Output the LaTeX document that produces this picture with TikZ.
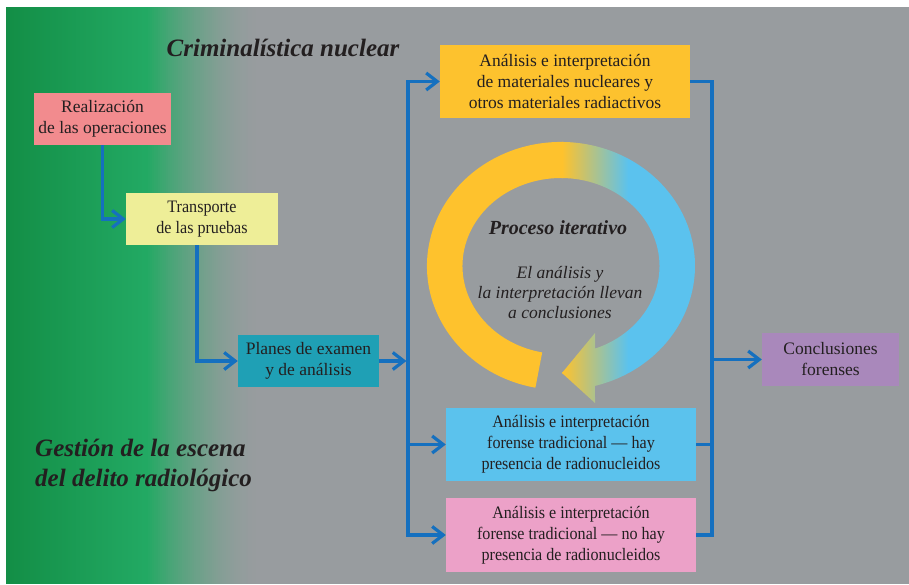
\documentclass[tikz,border=0pt]{standalone}
\usepackage{fontspec}
\setmainfont{Liberation Serif}
\newfontfamily\narrowserif[FakeStretch=0.92]{Liberation Serif}
\usetikzlibrary{arrows.meta}
\definecolor{bggray}{RGB}{152,156,159}
\definecolor{gdark}{RGB}{19,142,70}
\definecolor{gmid}{RGB}{34,169,99}
\definecolor{txt}{RGB}{35,31,32}
\definecolor{flow}{RGB}{21,112,191}
\definecolor{cpink}{RGB}{242,139,142}
\definecolor{cyel}{RGB}{238,238,152}
\definecolor{cteal}{RGB}{31,160,181}
\definecolor{corange}{RGB}{253,194,46}
\definecolor{cblue}{RGB}{91,194,237}
\definecolor{crose}{RGB}{236,161,200}
\definecolor{cpurple}{RGB}{169,136,187}
\definecolor{ringY}{RGB}{254,194,45}
\definecolor{ringB}{RGB}{91,194,238}
\begin{document}
\begin{tikzpicture}[x=1pt,y=1pt,
  box/.style={inner sep=0pt, align=center, text=txt, font=\fontsize{17.5}{21}\selectfont},
  narrowbox/.style={box, font=\narrowserif\fontsize{17.5}{21}\selectfont},
  flowline/.style={draw=flow, line width=3.2pt},
  flowarrow/.style={flowline, -{Straight Barb[length=11pt,width=17pt]}},
  heading/.style={inner sep=0pt, text=txt, font=\fontsize{25}{30}\selectfont\bfseries\itshape}
]
\useasboundingbox (0,0) rectangle (909,584);
\fill[white] (0,0) rectangle (909,584);
\fill[bggray] (6,0) rectangle (909,577);
\foreach \i [evaluate=\i as \p using {int(round(\i*100/69))}] in {0,...,69}
  {\fill[gmid!\p!gdark] ({6+2*\i},0) rectangle ({6+2*\i+2.6},577);}
\foreach \i [evaluate=\i as \p using {int(round(100*(1-(1-\i/57)^1.7)))}] in {0,...,57}
  {\fill[bggray!\p!gmid] ({146+2*\i},0) rectangle ({146+2*\i+2.6},577);}

% iterative ring
\begin{scope}
\clip (535.4,196.3) arc[start angle=259, end angle=-75.3, x radius=134, y radius=124]
  -- (595,181) -- (562,211) -- (595,251) -- (595,235.4)
  arc[start angle=-69.8, end angle=259, x radius=98.5, y radius=88] -- cycle;
\fill[ringY] (420,150) rectangle (562.5,470);
\shade[left color=ringY, right color=ringB] (562,150) rectangle (628,470);
\fill[ringB] (627.5,150) rectangle (710,470);
\end{scope}

% headings
\node[heading] (title) at (283,536) {Criminalística nuclear};
\node[heading, anchor=west, align=left] (gestion) at (35,119) {Gestión de la escena\\del delito radiológico};
\node[inner sep=0pt, text=txt, font=\fontsize{20}{24}\selectfont\bfseries\itshape] (proc) at (558,356) {Proceso iterativo};
\node[inner sep=0pt, text=txt, align=center, font=\fontsize{17.5}{20}\selectfont\itshape] (procsub) at (560,291) {El análisis y\\la interpretación llevan\\a conclusiones};

% boxes
\node[box, fill=cpink, minimum width=137pt, minimum height=52pt] (r) at (102.5,465) {Realización\\de las operaciones};
\node[narrowbox, fill=cyel, minimum width=152pt, minimum height=52pt] (t) at (202,365) {Transporte\\de las pruebas};
\node[box, fill=cteal, minimum width=141pt, minimum height=52pt] (p) at (308.5,223) {Planes de examen\\y de análisis};
\node[box, fill=corange, minimum width=250pt, minimum height=73pt] (o) at (565,502.5) {Análisis e interpretación\\de materiales nucleares y\\otros materiales radiactivos};
\node[narrowbox, fill=cblue, minimum width=250pt, minimum height=73pt] (b) at (571,139.5) {Análisis e interpretación\\forense tradicional — hay\\presencia de radionucleidos};
\node[narrowbox, fill=crose, minimum width=250pt, minimum height=74pt] (k) at (571,49) {Análisis e interpretación\\forense tradicional — no hay\\presencia de radionucleidos};
\node[box, fill=cpurple, minimum width=137pt, minimum height=53pt] (c) at (830.5,224.5) {Conclusiones\\forenses};

% connectors
\coordinate (bl) at (408,0);
\coordinate (br) at (712,0);
\coordinate (pin) at (bl|-p.east);
\draw[flowarrow] (r.south) |- (t.west);
\draw[flowarrow] ([xshift=-5pt]t.south) |- (p.west);
\draw[flowarrow] (p.east) -- ([xshift=-1.6pt]pin);
\draw[flowline, line cap=rect] (bl|-o.west) -- (bl|-k.west);
\draw[flowarrow] (bl|-o.west) -- (o.west);
\draw[flowarrow] (bl|-b.west) -- (b.west);
\draw[flowarrow] (bl|-k.west) -- (k.west);
\draw[flowline, line join=miter] (o.east) -| (br|-k.east) -- (k.east);
\draw[flowline] (b.east) -- (br|-b.east);
\draw[flowarrow] (br|-c.west) -- (c.west);
\end{tikzpicture}
\end{document}
